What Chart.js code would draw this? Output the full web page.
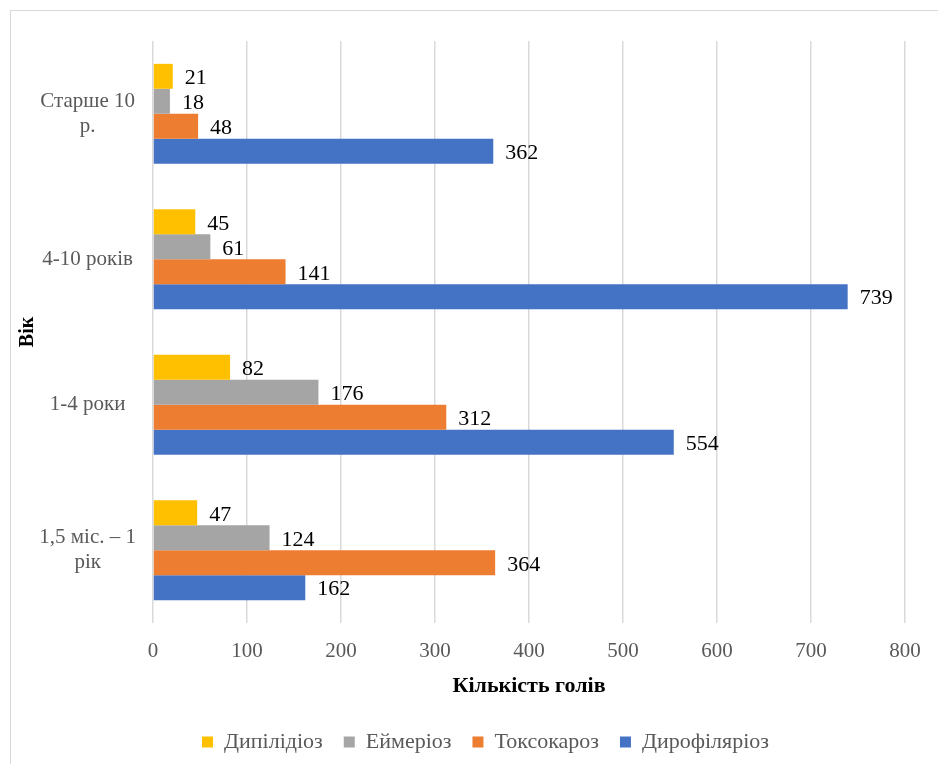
<!DOCTYPE html>
<html>
<head>
<meta charset="utf-8">
<script src="https://cdn.jsdelivr.net/npm/chart.js@4.4.0/dist/chart.umd.min.js"></script>
<style>
  body { margin: 0; background: #fff; }
  #wrap { position: relative; width: 938px; height: 764px; overflow: hidden; }
  #frame { position: absolute; left: 10px; top: 10px; width: 940px; height: 760px;
           border: 1.5px solid #d9d9d9; box-sizing: border-box; pointer-events: none; }
  canvas { position: absolute; left: 0; top: 0; }
</style>
</head>
<body>
<div id="wrap">
  <div id="frame"></div>
  <canvas id="chart" width="938" height="764"></canvas>
</div>
<script>
const ageGroups = [["Старше 10", "р."], "4-10 років", "1-4 роки", ["1,5 міс. – 1", "рік"]];
const dipylidiosis = [21, 45, 82, 47];
const eimeriosis = [18, 61, 176, 124];
const toxocarosis = [48, 141, 312, 364];
const dirofilariosis = [362, 739, 554, 162];
const xTicks = [0, 100, 200, 300, 400, 500, 600, 700, 800];

const serif = "'Liberation Serif', 'Times New Roman', serif";
const grey = "#595959";

// labels at the end of each bar
const valueLabels = {
  id: "valueLabels",
  afterDatasetsDraw(chart) {
    const ctx = chart.ctx;
    ctx.save();
    ctx.font = "22px " + serif;
    ctx.fillStyle = "#000";
    ctx.textAlign = "left";
    ctx.textBaseline = "middle";
    chart.data.datasets.forEach((ds, i) => {
      chart.getDatasetMeta(i).data.forEach((bar, j) => {
        ctx.fillText(ds.data[j], bar.x + 12, bar.y + 2);
      });
    });
    ctx.restore();
  },
};

// nudge the legend a bit to the right, like the original
const legendShift = {
  id: "legendShift",
  afterLayout(chart) {
    chart.legend.left += 28;
    chart.legend.right += 28;
  },
};

new Chart(document.getElementById("chart"), {
  type: "bar",
  data: {
    labels: ageGroups,
    datasets: [
      { label: "Дипілідіоз", data: dipylidiosis, backgroundColor: "#FFC000" },
      { label: "Еймеріоз", data: eimeriosis, backgroundColor: "#A5A5A5" },
      { label: "Токсокароз", data: toxocarosis, backgroundColor: "#ED7D31" },
      { label: "Дирофіляріоз", data: dirofilariosis, backgroundColor: "#4472C4" },
    ],
  },
  options: {
    indexAxis: "y",
    responsive: false,
    animation: false,
    categoryPercentage: 0.686,
    barPercentage: 1,
    layout: { padding: { left: 10, top: 41, right: 33, bottom: 1 } },
    plugins: {
      legend: {
        position: "bottom",
        labels: {
          boxWidth: 11,
          boxHeight: 11,
          padding: 21,
          color: grey,
          font: { family: serif, size: 22 },
        },
      },
      tooltip: { enabled: false },
    },
    scales: {
      x: {
        min: 0,
        max: 800,
        afterBuildTicks: (scale) => {
          scale.ticks = xTicks.map((v) => ({ value: v }));
        },
        afterFit: (scale) => {
          scale.height = 87;
        },
        grid: { color: "#d9d9d9", lineWidth: 1.5, drawTicks: false },
        border: { display: false },
        ticks: { padding: 16, color: grey, font: { family: serif, size: 21 } },
        title: {
          display: true,
          text: "Кількість голів",
          color: "#000",
          font: { family: serif, size: 22, weight: "bold" },
          padding: { top: 4, bottom: 10 },
        },
      },
      y: {
        afterFit: (scale) => {
          scale.width = 143;
        },
        grid: { display: false },
        border: { display: false },
        ticks: {
          crossAlign: "center",
          padding: 9,
          color: grey,
          font: { family: serif, size: 21 },
        },
        title: {
          display: true,
          text: "Вік",
          color: "#000",
          font: { family: serif, size: 20, weight: "bold" },
          padding: { top: 6, bottom: 0 },
        },
      },
    },
  },
  plugins: [valueLabels, legendShift],
});
</script>
</body>
</html>
